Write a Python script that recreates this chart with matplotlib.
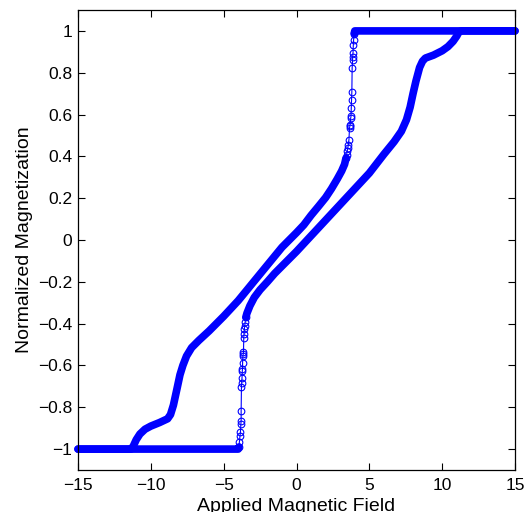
import numpy as np
import matplotlib
matplotlib.use('Agg')
import matplotlib.pyplot as plt

# descending branch (field going from +15 to -15)
desc_top_x = [15.0, 4.0, 3.97]
desc_top_y = [1.0, 1.0, 0.99]
desc_jump_x = [3.97, 3.95, 3.92, 3.90, 3.88, 3.86, 3.85, 3.82, 3.80, 3.78, 3.76, 3.74, 3.72,
               3.68, 3.66, 3.64, 3.60, 3.56, 3.52, 3.48, 3.44, 3.40]
desc_jump_y = [0.99, 0.985, 0.957, 0.933, 0.894, 0.877, 0.862, 0.822, 0.710, 0.671, 0.631, 0.591, 0.583,
               0.551, 0.543, 0.536, 0.480, 0.456, 0.440, 0.424, 0.408, 0.392]
desc_body_x = [3.40, 3.3, 3.1, 2.8, 2.4, 2.0, 1.5, 1.0, 0.5, 0.0, -1.0, -2.0, -3.0, -4.0, -5.0, -6.0,
               -6.7, -7.2, -7.55, -7.8, -8.0, -8.2, -8.45, -8.65, -8.85, -9.4, -10.0, -10.4, -10.75,
               -11.0, -11.2, -11.35, -15.0]
desc_body_y = [0.392, 0.362, 0.33, 0.292, 0.245, 0.203, 0.16, 0.118, 0.072, 0.035, -0.035, -0.12,
               -0.205, -0.29, -0.365, -0.435, -0.48, -0.515, -0.555, -0.6, -0.645, -0.71, -0.79,
               -0.835, -0.855, -0.873, -0.89, -0.905, -0.928, -0.955, -0.985, -1.0, -1.0]

# ascending branch (field going from -15 to +15)
asc_bottom_x = [-15.0, -4.0, -3.95]
asc_bottom_y = [-1.0, -1.0, -0.99]
asc_jump_x = [-3.95, -3.92, -3.88, -3.85, -3.82, -3.80, -3.80, -3.78, -3.76, -3.74, -3.72, -3.71,
              -3.70, -3.68, -3.66, -3.64, -3.62, -3.60, -3.58, -3.55, -3.52, -3.48]
asc_jump_y = [-0.99, -0.965, -0.937, -0.920, -0.881, -0.865, -0.817, -0.705, -0.682, -0.658, -0.626,
              -0.618, -0.586, -0.555, -0.547, -0.538, -0.467, -0.451, -0.427, -0.41, -0.39, -0.37]
asc_body_x = [-3.48, -3.4, -3.2, -2.9, -2.5, -2.0, -1.5, -1.0, -0.5, 0.0, 1.0, 2.0, 3.0, 4.0, 5.0,
              6.0, 6.7, 7.2, 7.55, 7.8, 8.0, 8.2, 8.45, 8.65, 8.85, 9.4, 10.0, 10.4, 10.75, 11.0,
              11.15, 11.3, 15.0]
asc_body_y = [-0.37, -0.35, -0.315, -0.275, -0.238, -0.2, -0.16, -0.125, -0.09, -0.055, 0.02, 0.095,
              0.17, 0.245, 0.32, 0.41, 0.47, 0.52, 0.575, 0.635, 0.70, 0.76, 0.825, 0.855, 0.87,
              0.884, 0.905, 0.925, 0.95, 0.975, 0.995, 1.0, 1.0]

x_ticks = [-15, -10, -5, 0, 5, 10, 15]
y_ticks = [-1, -0.8, -0.6, -0.4, -0.2, 0, 0.2, 0.4, 0.6, 0.8, 1]
y_tick_labels = ['\u22121', '\u22120.8', '\u22120.6', '\u22120.4', '\u22120.2', '0',
                 '0.2', '0.4', '0.6', '0.8', '1']

plt.rcParams['font.family'] = ['Liberation Sans', 'DejaVu Sans']
plt.rcParams['font.size'] = 12.5

fig = plt.figure(figsize=(5.26, 5.12), dpi=100)
ax = fig.add_axes([78 / 526, 42 / 512, 437 / 526, 460 / 512])

blue = (0, 0, 1)
band = dict(color=blue, lw=5.5, solid_capstyle='round', solid_joinstyle='round', clip_on=False)
dots = dict(color=blue, lw=0.8, marker='o', ms=4.8, mfc='none', mec=blue, mew=0.8, clip_on=False)

# dense parts look like a solid band of overlapping circles
for xs, ys in [(desc_top_x, desc_top_y), (desc_body_x, desc_body_y),
               (asc_bottom_x, asc_bottom_y), (asc_body_x, asc_body_y)]:
    ax.plot(xs, ys, **band)

# sparse jumps show single markers
ax.plot(desc_jump_x, desc_jump_y, **dots)
ax.plot(asc_jump_x, asc_jump_y, **dots)

ax.set_xlim(-15, 15)
ax.set_ylim(-1.1, 1.1)
ax.set_xticks(x_ticks)
ax.set_xticklabels(['\u2212' + str(abs(t)) if t < 0 else str(t) for t in x_ticks])
ax.set_yticks(y_ticks)
ax.set_yticklabels(y_tick_labels)
ax.tick_params(direction='in', length=5, width=0.8, top=True, right=True, pad=6)
ax.tick_params(axis='y', pad=4)
for s in ax.spines.values():
    s.set_linewidth(0.9)

ax.set_xlabel('Applied Magnetic Field', fontsize=14)
ax.xaxis.set_label_coords(0.5, -0.06)
ax.set_ylabel('Normalized Magnetization', fontsize=14, labelpad=4)

fig.savefig('out.png', dpi=100)
